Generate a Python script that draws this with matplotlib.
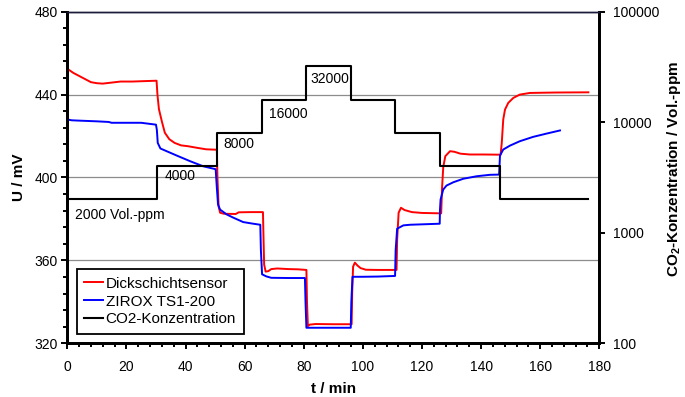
import matplotlib
matplotlib.use("Agg")
import matplotlib.pyplot as plt
from matplotlib.ticker import MultipleLocator, FixedLocator, NullLocator, FixedFormatter

plt.rcParams["font.family"] = ["Liberation Sans", "DejaVu Sans"]
plt.rcParams["mathtext.fontset"] = "custom"
plt.rcParams["mathtext.rm"] = "Liberation Sans"
plt.rcParams["mathtext.bf"] = "Liberation Sans:bold"

# Dickschichtsensor (mV)
red_t = [0, 1, 2, 4, 6, 8, 10, 12, 15, 18, 22, 26, 30.2,
         30.5, 31, 32, 33, 34.5, 36.3, 38.5, 40.8, 44, 47, 50.6,
         50.8, 51.2, 51.7, 53, 57, 58, 62, 66.2,
         66.4, 66.6, 67.1, 68, 69, 71, 75, 78, 80.9,
         81.1, 81.4, 82, 84, 90, 96.2,
         96.4, 96.7, 97.3, 98.2, 99.2, 101, 105, 111.4,
         111.6, 112.1, 112.9, 114.1, 116.6, 120, 126.5,
         126.8, 127.2, 127.9, 129.5, 131, 133, 136.2, 141, 146.6,
         147.0, 147.5, 148.1, 149.2, 150.9, 153.1, 156.5, 165, 176.3]
red_mv = [452.5, 451.5, 450.5, 449, 447.5, 446, 445.5, 445.3, 445.8, 446.3, 446.3, 446.5, 446.7,
          440, 433, 427, 421.6, 418.5, 416.7, 415.5, 415.1, 414.3, 413.6, 413.4,
          400, 386, 383, 382.5, 382.4, 383.2, 383.3, 383.3,
          370, 358, 354.6, 354.8, 355.8, 356.1, 355.8, 355.7, 355.4,
          340, 328.3, 329, 329.3, 329.2, 329.2,
          345, 357, 358.9, 357.5, 356.3, 355.5, 355.4, 355.4,
          370, 383, 385.4, 384.3, 383.3, 382.9, 382.7,
          395, 405, 410.3, 412.7, 412.4, 411.5, 411.1, 411.1, 411.0,
          416.7, 428, 432.8, 436, 438.4, 440.0, 440.8, 441.0, 441.1]

# ZIROX TS1-200 (mV)
blue_t = [0, 1.5, 3, 10, 14, 15, 25, 30,
          30.3, 30.6, 31.5, 33.6, 37, 41.5, 46, 50.2,
          50.6, 51.0, 51.7, 53.9, 56.2, 59.5, 62.9, 65.3,
          65.5, 65.9, 67.3, 69, 75, 80.4,
          80.6, 80.9, 90, 95.9,
          96.1, 96.5, 100, 105, 110.9,
          111.1, 111.6, 113.7, 116, 120, 126,
          126.1, 126.3, 127.2, 128.3, 130.6, 134, 138.5, 143, 146.1,
          146.4, 147.5, 149.8, 153.1, 157.6, 162.2, 166.7]
blue_mv = [428, 427.6, 427.5, 427.1, 426.8, 426.4, 426.4, 425.5,
           423, 416.7, 414, 412.7, 410.6, 407.9, 405.4, 404.0,
           395, 387, 384.5, 382.2, 380.6, 378.5, 377.7, 377.2,
           365, 353.3, 352.3, 351.6, 351.5, 351.5,
           340, 327.5, 327.5, 327.5,
           340, 352.1, 352.1, 352.2, 352.5,
           365, 375.3, 376.9, 377.2, 377.4, 377.7,
           384.6, 389.4, 394.2, 396.1, 397.7, 399.4, 400.6, 401.3, 401.4,
           410.6, 413.5, 415.4, 417.5, 419.6, 421.2, 422.7]

# CO2-Konzentration (Vol.-ppm), Stufen
co2_t = [0, 30.2, 50.7, 65.8, 80.8, 95.9, 110.9, 126.1, 146.5, 176.3]
co2_ppm = [2000, 4000, 8000, 16000, 32000, 16000, 8000, 4000, 2000, 2000]
step_labels = ["2000 Vol.-ppm", "4000", "8000", "16000", "32000"]
label_pos = [(2.6, 381.8), (33.0, 400.6), (52.7, 416.2), (68.2, 430.6), (82.1, 447.5)]

fig = plt.figure(figsize=(6.85, 3.97), dpi=100)
ax = fig.add_axes([67.3 / 685, 1 - 343.3 / 397, (599.3 - 67.3) / 685, (343.3 - 11.7) / 397])
ax2 = ax.twinx()

l_red, = ax.plot(red_t, red_mv, color="#ff0000", lw=1.4, label="Dickschichtsensor")
l_blue, = ax.plot(blue_t, blue_mv, color="#0000ff", lw=1.4, label="ZIROX TS1-200")
l_co2, = ax2.plot(co2_t, co2_ppm, color="black", lw=1.5, drawstyle="steps-post",
                  label="CO2-Konzentration")

ax.set_xlim(0, 180)
ax.set_ylim(320, 480)
ax2.set_yscale("log")
ax2.set_ylim(100, 100000)

ax.xaxis.set_major_locator(MultipleLocator(20))
ax.xaxis.set_minor_locator(MultipleLocator(4))
ax.yaxis.set_major_locator(MultipleLocator(40))
ax.yaxis.set_minor_locator(MultipleLocator(8))
ax2.yaxis.set_major_locator(FixedLocator([100, 1000, 10000, 100000]))
ax2.yaxis.set_major_formatter(FixedFormatter(["100", "1000", "10000", "100000"]))
ax2.yaxis.set_minor_locator(NullLocator())

ax.grid(axis="y", which="major", color="#8c8c8c", lw=0.9)
ax.set_axisbelow(True)

ax.tick_params(axis="both", which="both", direction="out", width=1.4, labelsize=10, color="black")
ax.tick_params(axis="both", which="major", length=4)
ax.tick_params(axis="both", which="minor", length=3)
ax.tick_params(axis="x", pad=8)
ax.tick_params(axis="y", pad=3)
ax2.tick_params(axis="y", which="major", direction="out", length=4, width=1.4, labelsize=10, pad=6)

for a in (ax, ax2):
    for side in ("left", "bottom", "right"):
        a.spines[side].set_linewidth(2.0)
        a.spines[side].set_color("black")
    a.spines["top"].set_linewidth(1.0)
    a.spines["top"].set_color("#1a1a3a")

for txt, (tx, ty) in zip(step_labels, label_pos):
    ax.text(tx, ty, txt, fontsize=10, ha="left", va="center")

ax.set_xlabel("t / min", fontsize=11, fontweight="bold", labelpad=6)
ax.set_ylabel("U / mV", fontsize=11, fontweight="bold", va="center")
ax.yaxis.set_label_coords(-0.091, 0.5)
ax2.set_ylabel(r"CO$_\mathbf{2}$-Konzentration / Vol.-ppm", fontsize=11,
               fontweight="bold", va="center")
ax2.yaxis.set_label_coords(1.14, 0.526)

leg = ax2.legend(handles=[l_red, l_blue, l_co2], loc="lower left",
                 bbox_to_anchor=(0.0177, 0.028), borderaxespad=0,
                 fontsize=11, handlelength=1.2, handletextpad=0.2,
                 labelspacing=0.25, borderpad=0.5, fancybox=False, framealpha=1)
leg.get_frame().set_edgecolor("black")
leg.get_frame().set_linewidth(1.3)

fig.savefig("out.png", dpi=100)
